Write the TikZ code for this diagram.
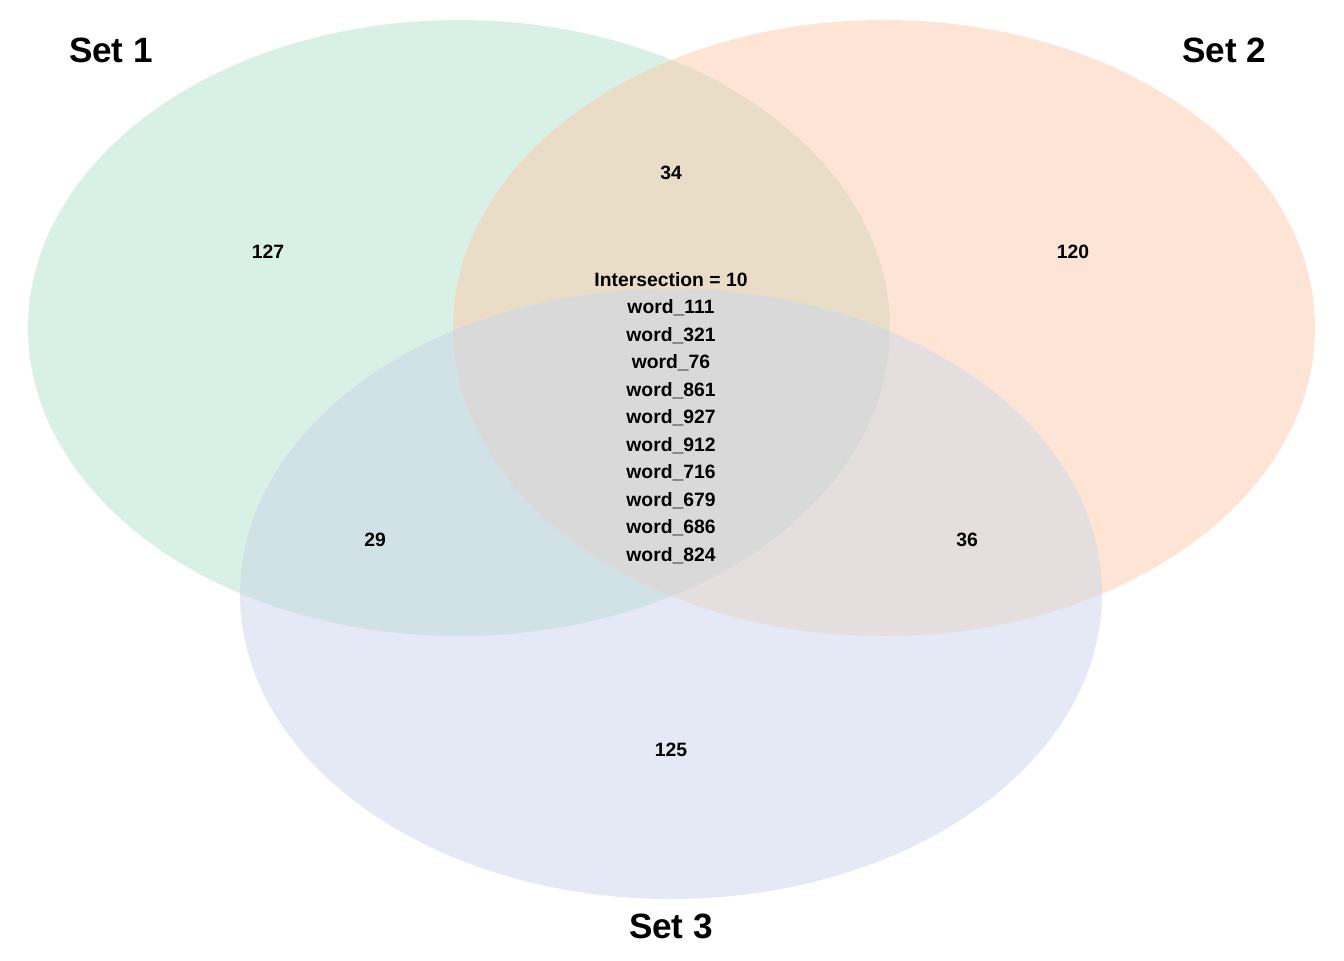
\documentclass[tikz,border=0pt]{standalone}
\usepackage{fontspec}
\setmainfont{Liberation Sans}
\definecolor{onlyone}{HTML}{D9F0E6}
\definecolor{onlytwo}{HTML}{FEE4D5}
\definecolor{onlythree}{HTML}{E5E9F5}
\definecolor{onetwo}{HTML}{EADDC8}
\definecolor{onethree}{HTML}{D0E2E6}
\definecolor{twothree}{HTML}{E4DEDE}
\definecolor{allthree}{HTML}{D9D9D9}
\def\setone{(459,328) ellipse [x radius=431, y radius=308]}
\def\settwo{(884,328) ellipse [x radius=431, y radius=308]}
\def\setthree{(671,594) ellipse [x radius=431, y radius=305]}
\begin{document}
\begin{tikzpicture}[
      x=0.02cm, y=-0.02cm,
      set label/.style={font=\fontsize{20}{24}\selectfont\bfseries, inner sep=0pt},
      count label/.style={font=\fontsize{11}{15.65}\selectfont\bfseries, align=center, inner sep=0pt}
    ]
    \useasboundingbox (0,0) rectangle (1344,960);

    % Sets
    \fill[onlyone] \setone;
    \fill[onlytwo] \settwo;
    \fill[onlythree] \setthree;

    % Overlaps
    \begin{scope}
      \clip \setone;
      \fill[onetwo] \settwo;
      \fill[onethree] \setthree;
    \end{scope}
    \begin{scope}
      \clip \settwo;
      \fill[twothree] \setthree;
    \end{scope}
    \begin{scope}
      \clip \setone;
      \clip \settwo;
      \fill[allthree] \setthree;
    \end{scope}

    % Set names
    \node (set1) [set label] at (111,50) {Set 1};
    \node (set2) [set label] at (1224,50) {Set 2};
    \node (set3) [set label] at (671,926) {Set 3};

    % Region counts
    \node (only1) [count label] at (268,252) {127};
    \node (only2) [count label] at (1073,252) {120};
    \node (only3) [count label] at (671,750) {125};
    \node (both12) [count label] at (671,173) {34};
    \node (both13) [count label] at (375,540) {29};
    \node (both23) [count label] at (967,540) {36};

    % Common elements
    \node (all) [count label] at (671,418) {Intersection = 10\\word\_111\\word\_321\\word\_76\\word\_861\\word\_927\\word\_912\\word\_716\\word\_679\\word\_686\\word\_824};
  \end{tikzpicture}
\end{document}
